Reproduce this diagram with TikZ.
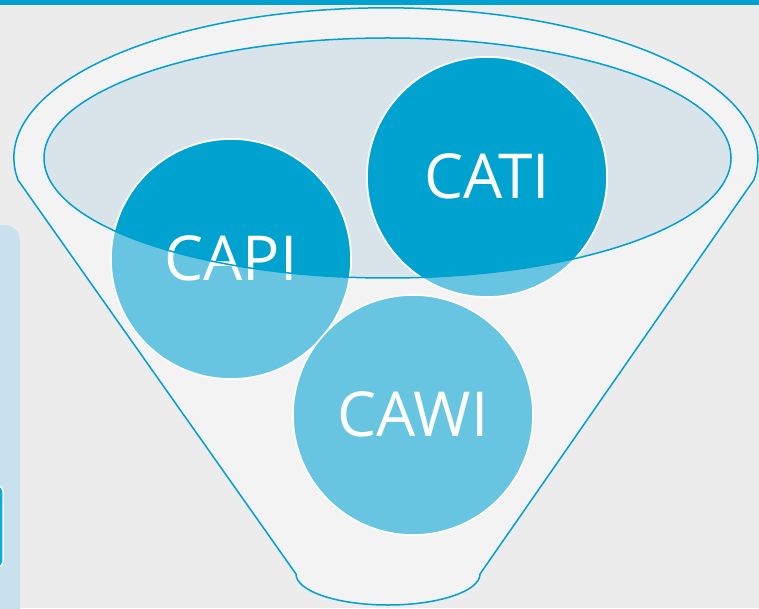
\documentclass[tikz,border=0pt]{standalone}
\usepackage{fontspec}
\setmainfont{Open Sans}
\definecolor{bgc}{HTML}{ECECEC}
\definecolor{funnelc}{HTML}{F3F3F3}
\definecolor{linec}{HTML}{00A0CF}
\definecolor{innerc}{HTML}{D9E4EA}
\definecolor{darkc}{HTML}{00A3CF}
\definecolor{lightc}{HTML}{67C5E2}
\definecolor{panelc}{HTML}{C9E1EE}
\definecolor{tabc}{HTML}{00AEE0}
\tikzset{
  ball/.style={circle, minimum size=240pt, inner sep=0pt, fill=lightc, draw=white, line width=1.6pt},
  balltext/.style={text=white, font=\fontsize{62}{62}\selectfont, inner sep=0pt},
  outline/.style={draw=linec, line width=1.5pt},
}
\begin{document}
\begin{tikzpicture}[x=1pt,y=1pt]
\useasboundingbox (0,0) rectangle (759,608);
\fill[bgc] (0,0) rectangle (759,608);
% top bar
\fill[linec] (0,603) rectangle (759,608);
% left panel
\fill[panelc, rounded corners=15pt] (-20,-20) rectangle (20,383);
\draw[fill=tabc, draw=white, line width=1.5pt, rounded corners=5pt] (-20,41) rectangle (3,122);
% funnel body
\path[fill=funnelc, outline] (18,428) arc[start angle=188.5, end angle=-8.5, x radius=372, y radius=150]
  -- (480,34) arc[start angle=0, end angle=-180, x radius=92, y radius=31] -- cycle;
% inner ellipse
\coordinate (ec) at (387.5,450);
\fill[innerc] (ec) ellipse[x radius=343.5, y radius=120];
% circles (light part)
\node[ball] (cati) at (487,431) {};
\node[ball] (capi) at (231,349) {};
\node[ball] (cawi) at (413,193) {};
% dark part inside the inner ellipse
\begin{scope}
  \clip (ec) ellipse[x radius=343.5, y radius=120];
  \fill[darkc, draw=white, line width=1.6pt] (cati.center) circle[radius=120];
  \fill[darkc, draw=white, line width=1.6pt] (capi.center) circle[radius=120];
\end{scope}
% labels
\node[balltext] at ([yshift=1pt]cati.center) {CATI};
\node[balltext] at ([yshift=1pt]capi.center) {CAPI};
\node[balltext] at ([yshift=1pt]cawi.center) {CAWI};
% inner ellipse outline on top
\draw[outline] (ec) ellipse[x radius=343.5, y radius=120];
\end{tikzpicture}
\end{document}
